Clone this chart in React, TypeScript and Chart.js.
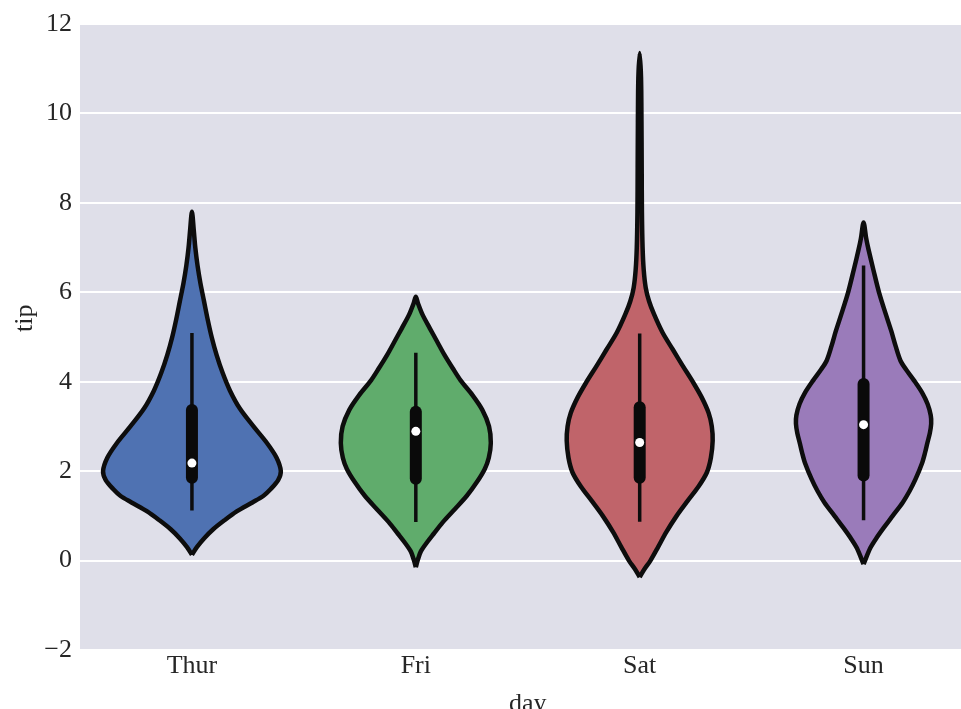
import React, { useEffect, useRef } from "react";
import { Chart, registerables } from "chart.js";

Chart.register(...registerables);

// ---- data ----
const days = ["Thur", "Fri", "Sat", "Sun"];
const yTickValues = [-2, 0, 2, 4, 6, 8, 10, 12];
const xTitle = "day";
const yTitle = "tip";

// violin outlines: [tip value, half width in category units], bottom to top
const thurProfile: [number, number][] = [
  [0.13, 0], [0.3, 0.022], [0.5, 0.055], [0.7, 0.095], [0.9, 0.145],
  [1.1, 0.2], [1.3, 0.27], [1.45, 0.32], [1.6, 0.352], [1.8, 0.385],
  [2.0, 0.397], [2.3, 0.378], [2.63, 0.335], [3.0, 0.275], [3.4, 0.214],
  [3.8, 0.17], [4.2, 0.137], [4.6, 0.11], [5.0, 0.088], [5.4, 0.07],
  [5.8, 0.054], [6.2, 0.038], [6.6, 0.025], [7.0, 0.015], [7.4, 0.008],
  [7.8, 0],
];
const friProfile: [number, number][] = [
  [-0.15, 0], [0.0, 0.008], [0.2, 0.022], [0.42, 0.052], [0.6, 0.08],
  [0.86, 0.121], [1.15, 0.174], [1.45, 0.228], [1.75, 0.272], [2.05, 0.308],
  [2.3, 0.326], [2.63, 0.335], [3.0, 0.327], [3.37, 0.297], [3.7, 0.253],
  [4.03, 0.2], [4.3, 0.165], [4.6, 0.128], [4.9, 0.095], [5.2, 0.062],
  [5.5, 0.03], [5.75, 0.01], [5.9, 0],
];
const satProfile: [number, number][] = [
  [-0.37, 0], [-0.2, 0.02], [0.0, 0.048], [0.3, 0.082], [0.63, 0.118],
  [1.0, 0.165], [1.34, 0.215], [1.65, 0.262], [1.97, 0.3], [2.3, 0.318],
  [2.68, 0.326], [3.0, 0.322], [3.3, 0.308], [3.65, 0.277], [4.0, 0.237],
  [4.35, 0.193], [4.72, 0.148], [5.1, 0.102], [5.51, 0.064], [5.8, 0.042],
  [6.1, 0.027], [6.5, 0.018], [7.0, 0.013], [7.8, 0.01], [8.8, 0.009],
  [9.8, 0.008], [10.8, 0.006], [11.35, 0],
];
const sunProfile: [number, number][] = [
  [-0.08, 0], [0.28, 0.03], [0.5, 0.057], [0.72, 0.088], [1.0, 0.13],
  [1.3, 0.175], [1.55, 0.205], [1.82, 0.232], [2.19, 0.262], [2.4, 0.274],
  [2.63, 0.285], [2.85, 0.296], [3.06, 0.302], [3.25, 0.3], [3.5, 0.286],
  [3.75, 0.262], [4.03, 0.225], [4.25, 0.193], [4.47, 0.165], [4.8, 0.143],
  [5.13, 0.124], [5.5, 0.1], [6.0, 0.069], [6.5, 0.044], [6.96, 0.022],
  [7.2, 0.012], [7.56, 0],
];
const profiles = [thurProfile, friProfile, satProfile, sunProfile];

const whiskerLow = [1.12, 0.86, 0.87, 0.9];
const whiskerHigh = [5.09, 4.65, 5.08, 6.6];
const boxLow = [1.85, 1.83, 1.85, 1.9];
const boxHigh = [3.37, 3.33, 3.43, 3.95];
const medians = [2.18, 2.89, 2.64, 3.04];

const fillColors = ["#4F72B2", "#60AC6C", "#C0646A", "#9A7BBA"];

const FONT = "'Liberation Serif', 'DejaVu Serif', serif";
const TEXT = "#262626";
const FONT_SIZE = 26;

function violinPoints(idx: number, profile: [number, number][]) {
  const right = profile.map(([v, w]) => ({ x: idx + w, y: v }));
  const left = profile
    .slice(0, -1)
    .reverse()
    .map(([v, w]) => ({ x: idx - w, y: v }));
  return [...right, ...left];
}

const bgPlugin = {
  id: "plotBg",
  beforeDraw(chart: any) {
    const { ctx, chartArea: a } = chart;
    ctx.save();
    ctx.fillStyle = "#DFDFE9";
    ctx.fillRect(a.left, a.top, a.right - a.left, a.bottom - a.top);
    ctx.restore();
  },
};

const yTitlePlugin = {
  id: "yTitle",
  afterDraw(chart: any) {
    const { ctx, chartArea: a } = chart;
    ctx.save();
    ctx.translate(25, a.top + (a.bottom - a.top) * 0.47);
    ctx.rotate(-Math.PI / 2);
    ctx.fillStyle = TEXT;
    ctx.font = `${FONT_SIZE}px ${FONT}`;
    ctx.textAlign = "center";
    ctx.textBaseline = "middle";
    ctx.fillText(yTitle, 0, 0);
    ctx.restore();
  },
};

export default function App() {
  const ref = useRef<HTMLCanvasElement | null>(null);

  useEffect(() => {
    if (!ref.current) return;
    const datasets: any[] = [];
    profiles.forEach((p, i) => {
      datasets.push({
        type: "line",
        data: violinPoints(i, p),
        backgroundColor: fillColors[i],
        borderColor: "#0d0d0d",
        borderWidth: 4.5,
        fill: "shape",
        pointRadius: 0,
        tension: 0.3,
        order: 3,
      });
      datasets.push({
        type: "line",
        data: [
          { x: i, y: whiskerLow[i] },
          { x: i, y: whiskerHigh[i] },
        ],
        borderColor: "#0d0d0d",
        borderWidth: 3.5,
        pointRadius: 0,
        fill: false,
        order: 2,
      });
      datasets.push({
        type: "line",
        data: [
          { x: i, y: boxLow[i] },
          { x: i, y: boxHigh[i] },
        ],
        borderColor: "#0a0a0a",
        borderWidth: 12,
        borderCapStyle: "round",
        pointRadius: 0,
        fill: false,
        order: 1,
      });
      datasets.push({
        type: "line",
        data: [{ x: i, y: medians[i] }],
        showLine: false,
        pointRadius: 4.5,
        pointBackgroundColor: "#ffffff",
        pointBorderWidth: 0,
        order: 0,
      });
    });

    const chart = new Chart(ref.current, {
      type: "line",
      data: { datasets },
      plugins: [bgPlugin, yTitlePlugin],
      options: {
        animation: false,
        responsive: false,
        events: [],
        layout: { padding: { top: 24, right: 4, left: 0, bottom: 0 } },
        plugins: { legend: { display: false }, tooltip: { enabled: false } },
        scales: {
          x: {
            type: "linear",
            min: -0.5,
            max: 3.5,
            grid: { display: false, drawTicks: false },
            border: { display: false },
            afterBuildTicks: (scale: any) => {
              scale.ticks = days.map((_, i) => ({ value: i }));
            },
            afterFit: (scale: any) => {
              scale.height = 80;
            },
            ticks: {
              autoSkip: false,
              maxRotation: 0,
              padding: 1,
              color: TEXT,
              font: { family: FONT, size: FONT_SIZE },
              callback: (v: any) => days[Math.round(Number(v))] ?? "",
            },
            title: {
              display: true,
              text: xTitle,
              color: TEXT,
              font: { family: FONT, size: FONT_SIZE },
              padding: { top: 0, bottom: 10 },
            },
          },
          y: {
            type: "linear",
            min: -2,
            max: 12,
            grid: { color: "#ffffff", lineWidth: 2, drawTicks: false },
            border: { display: false },
            afterBuildTicks: (scale: any) => {
              scale.ticks = yTickValues.map((v) => ({ value: v }));
            },
            afterFit: (scale: any) => {
              scale.width = 80;
            },
            ticks: {
              padding: 8,
              color: TEXT,
              font: { family: FONT, size: FONT_SIZE },
              callback: (v: any) => String(v).replace("-", "\u2212"),
            },
            title: { display: false },
          },
        },
      } as any,
    });
    return () => chart.destroy();
  }, []);

  return (
    <div
      style={{
        position: "fixed",
        left: 0,
        top: 0,
        width: 961,
        height: 709,
        overflow: "hidden",
        background: "#ffffff",
      }}
    >
      <canvas ref={ref} width={980} height={730} style={{ display: "block" }} />
    </div>
  );
}
